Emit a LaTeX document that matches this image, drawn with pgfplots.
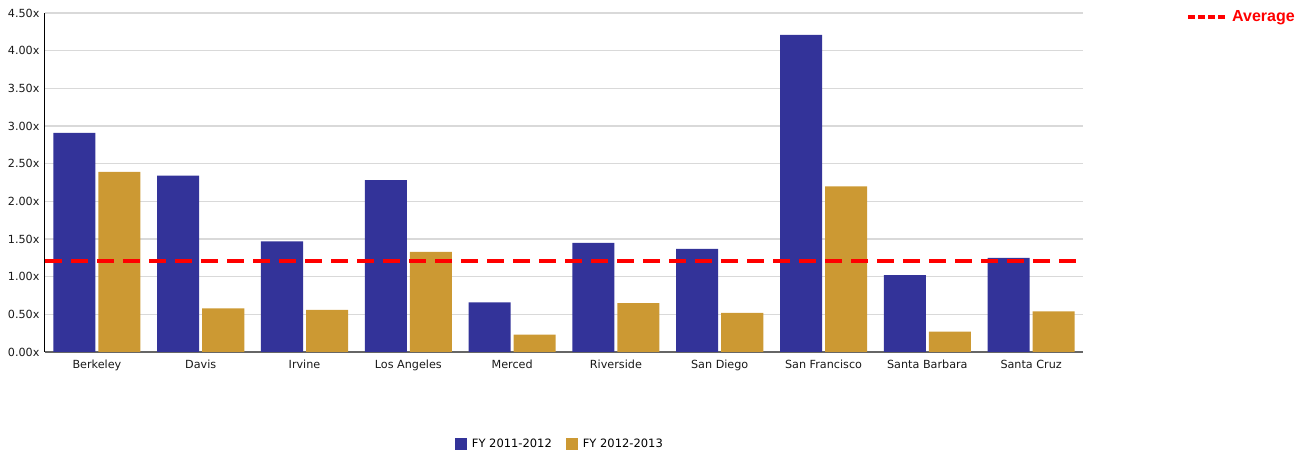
\documentclass[border=0pt]{standalone}
\usepackage{pgfplots}
\pgfplotsset{compat=1.18}
\usepackage{fontspec}
\setmainfont{DejaVu Sans}
\newfontfamily\arialb{Liberation Sans}
\definecolor{cblue}{HTML}{333399}
\definecolor{cgold}{HTML}{CC9933}
\definecolor{cgrid}{HTML}{D9D9D9}
\begin{document}
\begin{tikzpicture}
\useasboundingbox (-45pt,-102pt) rectangle (1267pt,352pt);
\begin{axis}[
  scale only axis, width=1038pt, height=339pt,
  at={(0pt,0pt)}, anchor=south west,
  xmin=-0.5, xmax=9.5, ymin=0, ymax=4.5,
  ytick={0,0.5,1,1.5,2,2.5,3,3.5,4,4.5},
  yticklabel={\pgfmathprintnumber[fixed,fixed zerofill,precision=2]{\tick}x},
  /pgf/number format/assume math mode=true,
  xtick={0,...,9},
  xticklabels={Berkeley,Davis,Irvine,Los Angeles,Merced,Riverside,San Diego,San Francisco,Santa Barbara,Santa Cruz},
  ticklabel style={font=\fontsize{11.2}{13}\selectfont, text=black!90},
  major tick length=0pt,
  axis lines*=left,
  x axis line style={draw=black!60, line width=1.2pt},
  y axis line style={draw=black, line width=1pt},
  ymajorgrids, grid style={draw=cgrid, line width=1.2pt},
  xticklabel style={yshift=-4pt, text height=8.5pt, text depth=2.5pt},
  yticklabel style={xshift=-2pt},
  legend style={at={(0.496,-0.271)}, anchor=center, draw=none, fill=none,
    legend columns=2, font=\fontsize{11.5}{13}\selectfont,
    /tikz/every odd column/.append style={column sep=3pt},
    /tikz/every even column/.append style={column sep=12pt}},
  legend image code/.code={\fill[#1] (0pt,-6pt) rectangle (12pt,6pt);},
]
\addplot[ybar, bar width=0.405, bar shift=-0.217, fill=cblue, draw=none] coordinates {
(0,2.91) (1,2.34) (2,1.47) (3,2.28) (4,0.66) (5,1.45) (6,1.37) (7,4.21) (8,1.02) (9,1.25)};
\addlegendentry{FY 2011-2012}
\addplot[ybar, bar width=0.405, bar shift=0.217, fill=cgold, draw=none] coordinates {
(0,2.39) (1,0.58) (2,0.56) (3,1.33) (4,0.23) (5,0.65) (6,0.52) (7,2.20) (8,0.27) (9,0.54)};
\addlegendentry{FY 2012-2013}
\addplot[red, line width=3.5pt, dash pattern=on 17pt off 9pt, forget plot] coordinates {(-0.5,1.21) (9.5,1.21)};
\end{axis}
\draw[red, line width=3.5pt, dash pattern=on 7pt off 3pt] (1143pt,335pt) -- (1180pt,335pt);
\node[anchor=west, inner sep=0pt, text=red, font=\arialb\bfseries\fontsize{16}{18}\selectfont] at (1187pt,334pt) {Average};
\end{tikzpicture}
\end{document}
